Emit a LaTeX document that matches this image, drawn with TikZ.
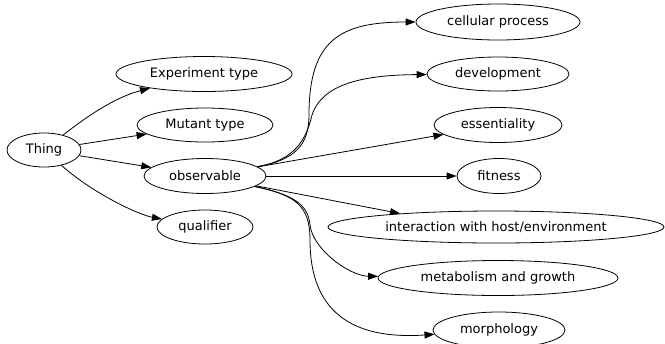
\documentclass[tikz,border=0pt]{standalone}
\usepackage{fontspec}
\setmainfont{DejaVu Sans}
\usetikzlibrary{shapes.geometric,arrows.meta}
\tikzset{
  oval/.style={draw, ellipse, inner sep=0pt, line width=0.8bp,
    font=\fontsize{13bp}{15bp}\selectfont, minimum height=35bp},
  link/.style={line width=0.8bp, -{Triangle[length=10bp,width=7bp]}}
}
\begin{document}
\begin{tikzpicture}[x=1bp,y=-1bp]
\useasboundingbox (0,0) rectangle (665,343);
\node[oval, minimum width=74bp, minimum height=34bp] (thing) at (44,150) {Thing};
\node[oval, minimum width=176bp] (exp) at (204,74) {Experiment type};
\node[oval, minimum width=136bp, minimum height=34bp] (mut) at (205,125) {Mutant type};
\node[oval, minimum width=122bp] (obs) at (205,176) {observable};
\node[oval, minimum width=96bp, minimum height=34bp] (qual) at (205,227) {qualifier};
\node[oval, minimum width=164bp, minimum height=36bp] (cell) at (498,22) {cellular process};
\node[oval, minimum width=142bp, minimum height=34bp] (dev) at (498,74) {development};
\node[oval, minimum width=128bp] (ess) at (498,125) {essentiality};
\node[oval, minimum width=84bp] (fit) at (499,176) {fitness};
\node[oval, minimum width=336bp, minimum height=32bp] (inter) at (496,227) {interaction with host/environment};
\node[oval, minimum width=240bp] (metab) at (498,278) {metabolism and growth};
\node[oval, minimum width=132bp, minimum height=36bp] (morph) at (499,330) {morphology};

\draw[link] (thing) .. controls (95,110) and (120,96) .. (exp);
\draw[link] (thing) -- (mut);
\draw[link] (thing) -- (obs);
\draw[link] (thing) .. controls (95,195) and (140,215) .. (qual);

\draw[link] (obs) .. controls (295,160) and (309,145) .. (309,115)
  .. controls (309,40) and (340,22) .. (cell);
\draw[link] (obs) .. controls (295,160) and (306,140) .. (312,115)
  .. controls (322,85) and (360,75) .. (dev);
\draw[link] (obs) -- (ess);
\draw[link] (obs) -- (fit);
\draw[link] (obs) -- (inter.172.4);
\draw[link] (obs) .. controls (295,195) and (308,205) .. (310,225)
  .. controls (313,250) and (350,276) .. (metab);
\draw[link] (obs) .. controls (295,195) and (310,205) .. (310,240)
  .. controls (310,310) and (350,340) .. (morph);
\end{tikzpicture}
\end{document}
